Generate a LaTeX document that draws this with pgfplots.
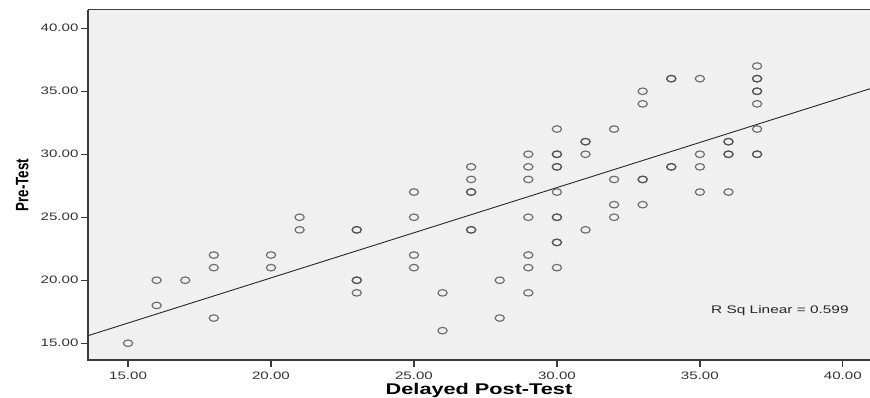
\documentclass[border=0pt]{standalone}
\usepackage{fontspec}
\setmainfont{Liberation Sans}
\newfontfamily\tickfont[FakeStretch=1.4]{Liberation Sans}
\newfontfamily\xlabfont[FakeStretch=1.4]{Liberation Sans Bold}
\newfontfamily\ylabfont[FakeStretch=0.74]{Liberation Sans Bold}
\usepackage{pgfplots}
\pgfplotsset{compat=1.18}
\definecolor{bg}{HTML}{F0F0F0}
\definecolor{frame}{HTML}{3A3A3A}
\begin{document}
\begin{tikzpicture}
\begin{axis}[
  scale only axis,
  width=782pt, height=350pt,
  at={(0,0)}, anchor=south west,
  xmin=13.6, xmax=40.95,
  ymin=13.67, ymax=41.45,
  axis background/.style={fill=bg},
  axis line style={draw=none},
  xtick={15,20,25,30,35,40},
  ytick={15,20,25,30,35,40},
  xtick pos=left, ytick pos=left,
  tick align=outside,
  major tick length=7pt,
  tick style={line width=1.3pt, color=frame},
  /pgf/number format/fixed,
  /pgf/number format/fixed zerofill,
  /pgf/number format/precision=2,
  /pgf/number format/assume math mode=true,
  ticklabel style={font=\tickfont\fontsize{10.8}{12}\selectfont, text=black!80},
  xticklabel style={yshift=-1pt},
  yticklabel style={xshift=1pt},
  xlabel={\xlabfont\fontsize{15.5}{17}\selectfont Delayed Post-Test},
  ylabel={\ylabfont\fontsize{18}{20}\selectfont Pre-Test},
  xlabel style={at={(axis description cs:0.5,0)}, anchor=north, yshift=-22pt, inner sep=1pt},
  ylabel style={at={(axis description cs:0,0.5)}, anchor=south, yshift=56pt},
  clip=false,
]
\addplot[only marks, mark=o, mark size=3.3pt,
  mark options={xscale=1.4, line width=1.15pt, draw=black!70, draw opacity=0.8}]
coordinates {
(15,15)
(16,20) (16,18)
(17,20)
(18,22) (18,21) (18,17)
(20,22) (20,21)
(21,25) (21,24)
(23,24) (23,24) (23,20) (23,20) (23,19)
(25,27) (25,25) (25,22) (25,21)
(26,19) (26,16)
(27,29) (27,28) (27,27) (27,27) (27,24) (27,24)
(28,20) (28,17)
(29,30) (29,29) (29,28) (29,25) (29,22) (29,21) (29,19)
(30,32) (30,30) (30,30) (30,29) (30,29) (30,27) (30,25) (30,25) (30,23) (30,23) (30,21)
(31,31) (31,31) (31,30) (31,24)
(32,32) (32,28) (32,26) (32,25)
(33,35) (33,34) (33,28) (33,28) (33,26)
(34,36) (34,36) (34,29) (34,29)
(35,36) (35,30) (35,29) (35,27)
(36,31) (36,31) (36,30) (36,30) (36,27)
(37,37) (37,36) (37,36) (37,35) (37,35) (37,34) (37,32) (37,30) (37,30)
};
\addplot[line width=0.9pt, color=black!85, no marks] coordinates {(13.6,15.6) (40.95,35.2)};
\draw[line width=1.6pt, color=frame] (rel axis cs:0,1) -- (rel axis cs:0,0) -- (rel axis cs:1,0);
\draw[line width=1pt, color=frame] (rel axis cs:0,1) -- (rel axis cs:1,1);
\node[font=\tickfont\fontsize{11}{13}\selectfont, text=black!85] at (axis cs:37.8,17.55) {R Sq Linear = 0.599};
\end{axis}
\pgfresetboundingbox
\path (-88pt,-38pt) rectangle (782pt,360pt);
\end{tikzpicture}
\end{document}
